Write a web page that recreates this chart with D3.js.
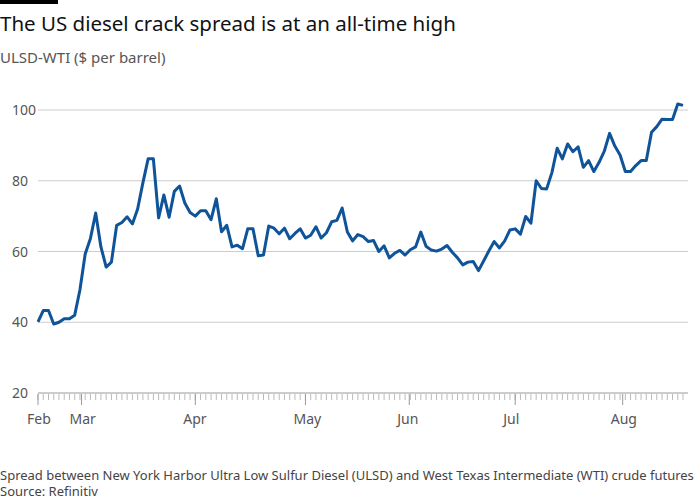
<html>
<head>
<meta charset="utf-8">
<script src="https://d3js.org/d3.v7.min.js"></script>
<style>
  body { margin: 0; background: #fff; font-family: "Noto Sans", sans-serif; }
</style>
</head>
<body>
<script>
// ULSD-WTI spread, business days from mid Feb to mid Aug
var values = [40.1,43.3,43.3,39.5,40,41,41,42,49.2,59.3,63.7,70.9,61.3,55.6,57,67.4,68.2,69.8,67.8,72,
  79.4,86.2,86.2,69.5,76,69.7,77,78.5,73.7,71,70,71.5,71.5,69,74.9,65.6,67.4,61.3,61.8,60.8,
  66.4,66.4,58.8,59,67.2,66.6,65,66.6,63.6,65.1,66.4,63.8,64.6,67,63.8,65.3,68.4,68.8,72.3,65.5,
  63,64.8,64.2,62.8,63.1,60,61.6,58.2,59.5,60.3,59,60.5,61.3,65.5,61.5,60.4,60.1,60.7,61.7,59.8,
  58.2,56.2,57,57.2,54.6,57.4,60.2,62.8,61,63,66.1,66.4,64.9,69.9,68,80,77.8,77.7,82.3,89.2,
  86.2,90.4,88.2,89.6,83.8,85.7,82.6,85.2,88.4,93.4,89.8,87.3,82.6,82.6,84.3,85.7,85.7,93.7,95.3,97.4,
  97.3,97.3,101.7,101.3];
var monthLabels = ["Feb","Mar","Apr","May","Jun","Jul","Aug"];
var monthIdx = [0, 8.3, 30, 51, 70.8, 91, 111.5];
var yTicks = [20,40,60,80,100];

var W = 700, H = 500;
var svg = d3.select("body").append("svg").attr("width", W).attr("height", H);

svg.append("rect").attr("x",0).attr("y",0).attr("width",58).attr("height",4).attr("fill","#000");
svg.append("text").attr("x",0).attr("y",31).attr("font-size",20.5).attr("fill","#111")
  .text("The US diesel crack spread is at an all-time high");
svg.append("text").attr("x",0).attr("y",63).attr("font-size",15).attr("fill","#555")
  .text("ULSD-WTI ($ per barrel)");

var x = d3.scaleLinear().domain([0, values.length - 1]).range([38, 683]);
var y = d3.scaleLinear().domain([20, 100]).range([393, 110]);

var grid = svg.append("g");
grid.selectAll("line").data(yTicks).join("line")
  .attr("x1", 38).attr("x2", 688)
  .attr("y1", d => y(d)).attr("y2", d => y(d))
  .attr("stroke", d => d === 20 ? "#999" : "#ccc").attr("stroke-width", 1);
grid.selectAll("text").data(yTicks).join("text")
  .attr("x", 12).attr("y", d => y(d) + 5).attr("font-size", 14).attr("fill", "#555")
  .text(d => d);

// daily ticks
svg.append("g").selectAll("line").data(d3.range(values.length)).join("line")
  .attr("x1", d => x(d)).attr("x2", d => x(d))
  .attr("y1", 394).attr("y2", 400).attr("stroke", "#bbb");
svg.append("g").selectAll("line").data(monthIdx).join("line")
  .attr("x1", d => x(d)).attr("x2", d => x(d))
  .attr("y1", 394).attr("y2", 405).attr("stroke", "#999");
svg.append("g").selectAll("text").data(monthLabels).join("text")
  .attr("x", (d, i) => i === 0 ? 27 : x(monthIdx[i]) - 12)
  .attr("y", 424).attr("font-size", 14).attr("fill", "#555")
  .text(d => d);

svg.append("path").datum(values)
  .attr("fill", "none").attr("stroke", "#0f5499").attr("stroke-width", 3)
  .attr("stroke-linejoin", "round")
  .attr("d", d3.line().x((d, i) => x(i)).y(d => y(d)));

svg.append("text").attr("x",0).attr("y",480).attr("font-size",13).attr("fill","#444")
  .text("Spread between New York Harbor Ultra Low Sulfur Diesel (ULSD) and West Texas Intermediate (WTI) crude futures");
svg.append("text").attr("x",0).attr("y",496).attr("font-size",13).attr("fill","#444")
  .text("Source: Refinitiv");
</script>
</body>
</html>
